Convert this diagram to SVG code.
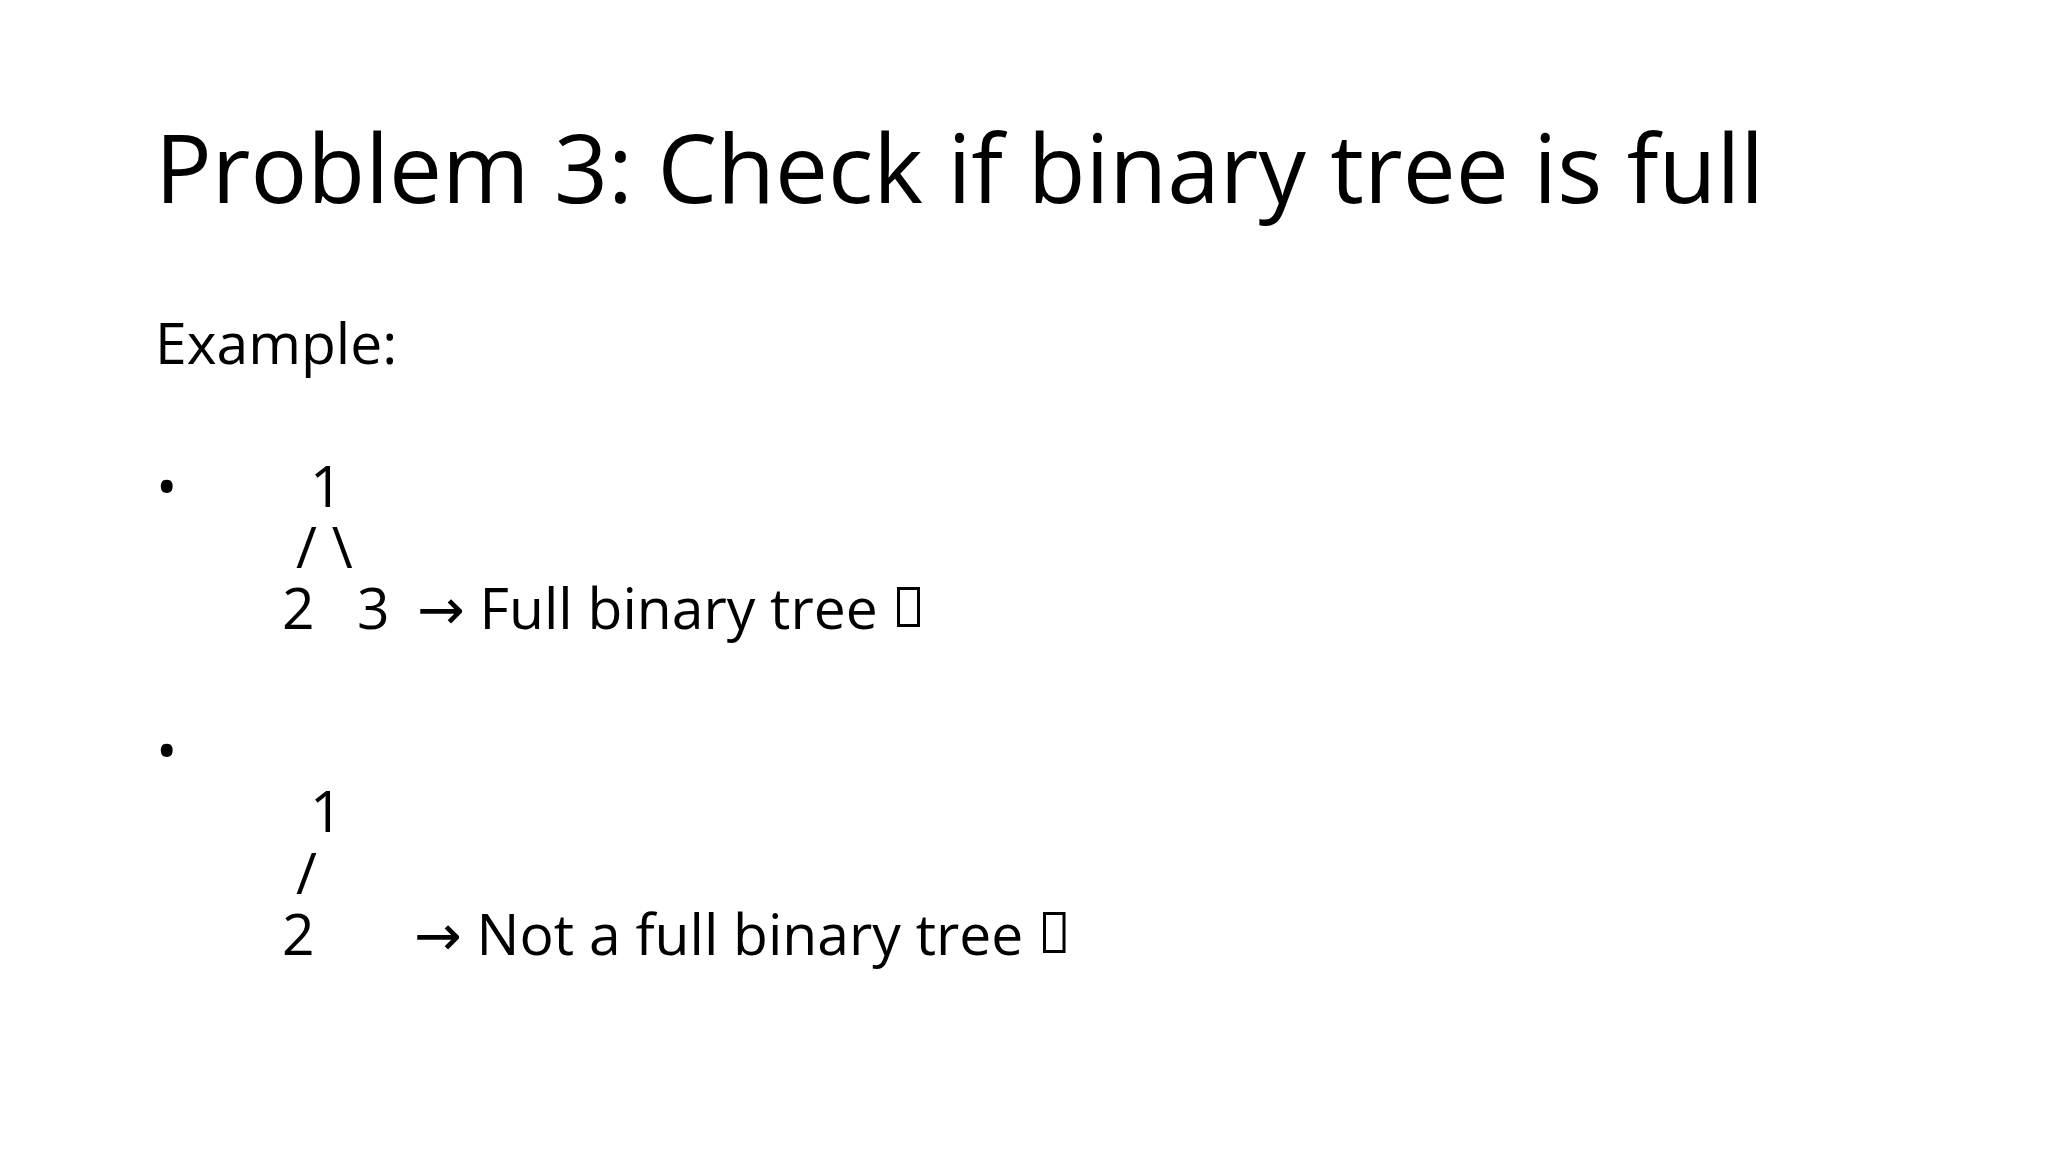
<svg xmlns="http://www.w3.org/2000/svg" width="2048" height="1152" viewBox="0 0 2048 1152">
<style>
text{font-family:"Open Sans","Noto Sans","DejaVu Sans",sans-serif;fill:#000}
.t{font-size:94.5px}
.b{font-size:57px}
.tofu{fill:none;stroke:#000;stroke-width:3}
</style>
<rect width="2048" height="1152" fill="#fff"/>
<g id="title"><text class="t" x="155" y="203">Problem 3: Check if binary tree is full</text></g>
<g id="example"><text class="b" x="155" y="364">Example:</text></g>
<g id="bullet1">
<text class="b" x="156" y="507">•</text>
<text class="b" x="310" y="507">1</text>
<text class="b" x="296" y="568">/ \</text>
<text class="b" x="282" y="629">2</text>
<text class="b" x="357" y="629">3</text>
<text class="b" x="417" y="629">→ Full binary tree</text>
<rect class="tofu" x="898.5" y="588.5" width="20" height="37"/>
</g>
<g id="bullet2">
<text class="b" x="156" y="771">•</text>
<text class="b" x="310" y="832">1</text>
<text class="b" x="296" y="894">/</text>
<text class="b" x="282" y="955">2</text>
<text class="b" x="414" y="955">→ Not a full binary tree</text>
<rect class="tofu" x="1044.5" y="913.5" width="19.5" height="38"/>
</g>
</svg>
